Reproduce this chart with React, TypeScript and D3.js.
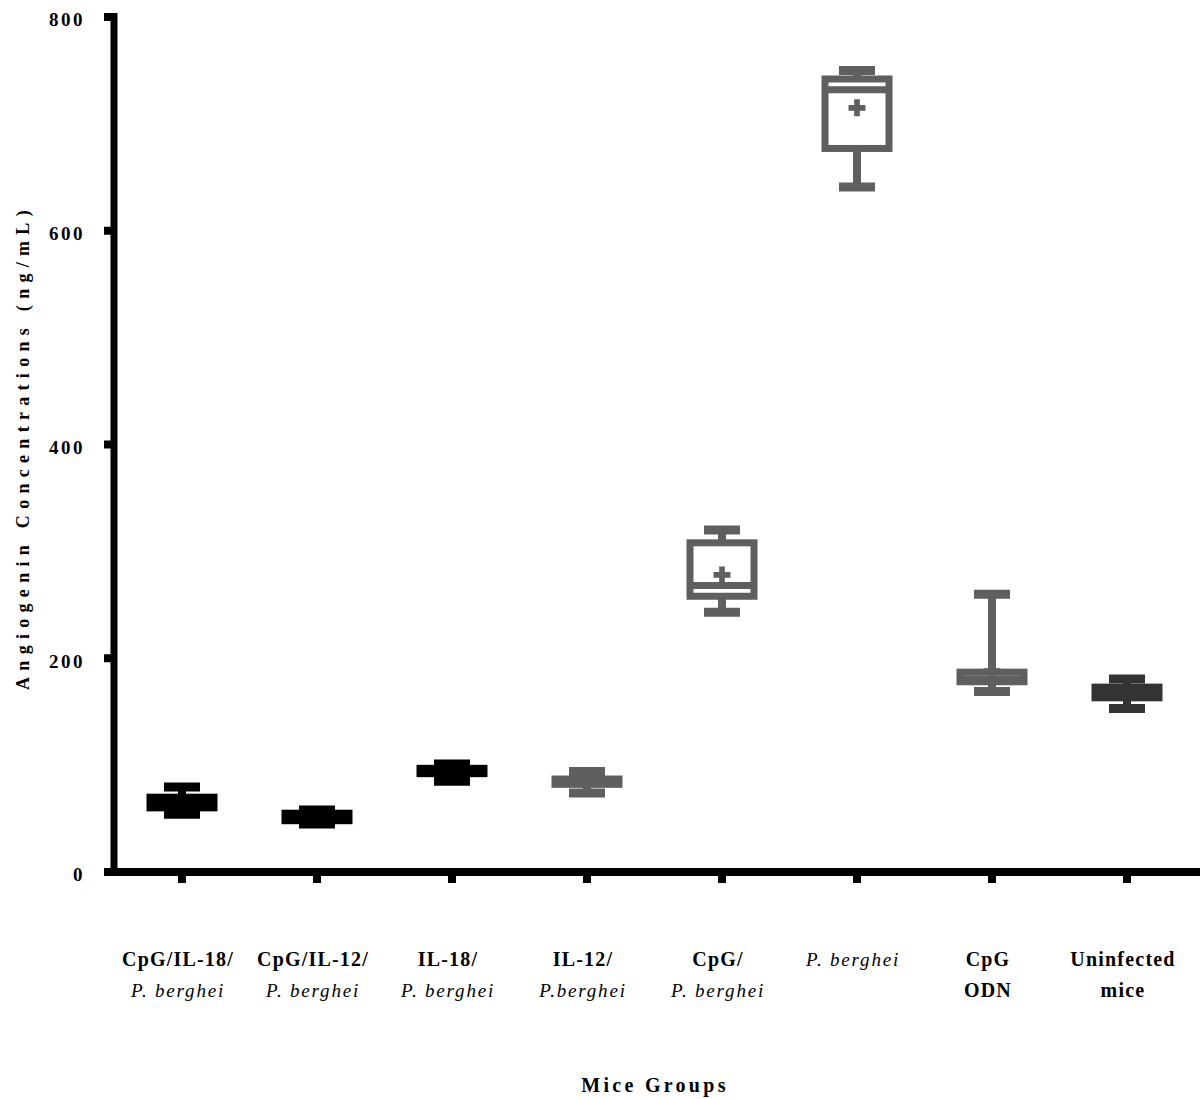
import React, { useEffect, useRef } from "react";
import * as d3 from "d3";

// groups and their two label lines
const groups = ["g1", "g2", "g3", "g4", "g5", "g6", "g7", "g8"];
const labelLine1 = ["CpG/IL-18/", "CpG/IL-12/", "IL-18/", "IL-12/", "CpG/", "P. berghei", "CpG", "Uninfected"];
const labelLine2 = ["P. berghei", "P. berghei", "P. berghei", "P.berghei", "P. berghei", "", "ODN", "mice"];
const italicLine1 = [false, false, false, false, false, true, false, false];
const italicLine2 = [true, true, true, true, true, false, false, false];

// box plot stats (ng/mL)
const minVals = [54, 45, 85, 74, 243, 641, 169, 153];
const q1Vals = [60, 48, 92, 82, 258, 677, 178, 163];
const medianVals = [65, 51.5, 94.5, 84.5, 268, 732, 180.5, 168];
const q3Vals = [70, 55, 97, 87, 308, 742, 187, 173];
const maxVals = [79.5, 58, 101, 94, 320, 750, 260, 180.5];
const meanVals = [66, 52, 95, 85, 278, 715, 188, 168];
const colors = ["#000000", "#000000", "#000000", "#5f5f5f", "#5f5f5f", "#5f5f5f", "#5f5f5f", "#333333"];

const yTicks = [0, 200, 400, 600, 800];

const serif = "'Liberation Serif', 'DejaVu Serif', serif";

const App = () => {
  const svgRef = useRef<SVGSVGElement>(null);

  useEffect(() => {
    const svg = d3.select(svgRef.current);
    svg.selectAll("*").remove();

    const x = d3.scaleBand().domain(groups).range([114.5, 1194.5]).padding(0);
    const y = d3.scaleLinear().domain([0, 800]).range([872, 17]);
    const cx = (i: number) => (x(groups[i]) as number) + x.bandwidth() / 2;

    // boxes
    groups.forEach((g, i) => {
      const c = cx(i);
      const col = colors[i];
      const grp = svg.append("g");
      // whiskers
      grp.append("line").attr("x1", c).attr("x2", c)
        .attr("y1", y(maxVals[i])).attr("y2", y(q3Vals[i]))
        .attr("stroke", col).attr("stroke-width", 8);
      grp.append("line").attr("x1", c).attr("x2", c)
        .attr("y1", y(q1Vals[i])).attr("y2", y(minVals[i]))
        .attr("stroke", col).attr("stroke-width", 8);
      // caps
      [maxVals[i], minVals[i]].forEach((v) => {
        grp.append("line").attr("x1", c - 18).attr("x2", c + 18)
          .attr("y1", y(v)).attr("y2", y(v))
          .attr("stroke", col).attr("stroke-width", 9);
      });
      // box
      grp.append("rect")
        .attr("x", c - 32).attr("width", 64)
        .attr("y", y(q3Vals[i])).attr("height", y(q1Vals[i]) - y(q3Vals[i]))
        .attr("fill", "none").attr("stroke", col).attr("stroke-width", 7);
      // median
      grp.append("line").attr("x1", c - 32).attr("x2", c + 32)
        .attr("y1", y(medianVals[i])).attr("y2", y(medianVals[i]))
        .attr("stroke", col).attr("stroke-width", 7);
      // mean
      grp.append("path")
        .attr("d", d3.symbol().type(d3.symbolCross).size(160)())
        .attr("transform", `translate(${c},${y(meanVals[i])})`)
        .attr("fill", col);
    });

    // y axis
    svg.append("line").attr("x1", 114).attr("x2", 114)
      .attr("y1", 13).attr("y2", 876)
      .attr("stroke", "#000").attr("stroke-width", 7);
    yTicks.forEach((t) => {
      svg.append("line").attr("x1", 104).attr("x2", 114)
        .attr("y1", y(t)).attr("y2", y(t))
        .attr("stroke", "#000").attr("stroke-width", 8);
      svg.append("text")
        .attr("x", 85).attr("y", y(t) + 5)
        .attr("text-anchor", "end").attr("dominant-baseline", "middle")
        .attr("font-family", serif).attr("font-weight", "bold")
        .attr("font-size", 19).attr("letter-spacing", 2.5)
        .text(t);
    });

    // x axis
    svg.append("line").attr("x1", 105).attr("x2", 1200)
      .attr("y1", 872).attr("y2", 872)
      .attr("stroke", "#000").attr("stroke-width", 8);
    groups.forEach((g, i) => {
      const c = cx(i);
      svg.append("line").attr("x1", c).attr("x2", c)
        .attr("y1", 874).attr("y2", 883)
        .attr("stroke", "#000").attr("stroke-width", 8);
      [labelLine1[i], labelLine2[i]].forEach((lbl, k) => {
        const it = k === 0 ? italicLine1[i] : italicLine2[i];
        svg.append("text")
          .attr("x", c - 4).attr("y", k === 0 ? 966 : 997).attr("text-anchor", "middle")
          .attr("font-family", serif).attr("font-size", it ? 19 : 20)
          .attr("letter-spacing", it ? 1.8 : 1.2)
          .attr("font-weight", it ? "normal" : "bold")
          .attr("font-style", it ? "italic" : "normal")
          .text(lbl);
      });
    });

    // axis titles
    svg.append("text")
      .attr("transform", "translate(29,447) rotate(-90)")
      .attr("text-anchor", "middle")
      .attr("font-family", serif).attr("font-weight", "bold")
      .attr("font-size", 18).attr("letter-spacing", 6.3)
      .text("Angiogenin Concentrations (ng/mL)");
    svg.append("text")
      .attr("x", 655).attr("y", 1092).attr("text-anchor", "middle")
      .attr("font-family", serif).attr("font-weight", "bold")
      .attr("font-size", 20).attr("letter-spacing", 3.3)
      .text("Mice Groups");
  }, []);

  return (
    <div style={{ position: "absolute", left: 0, top: 0 }}>
      <svg ref={svgRef} width={1202} height={1099} style={{ display: "block", background: "#fff" }}></svg>
    </div>
  );
};

export default App;
